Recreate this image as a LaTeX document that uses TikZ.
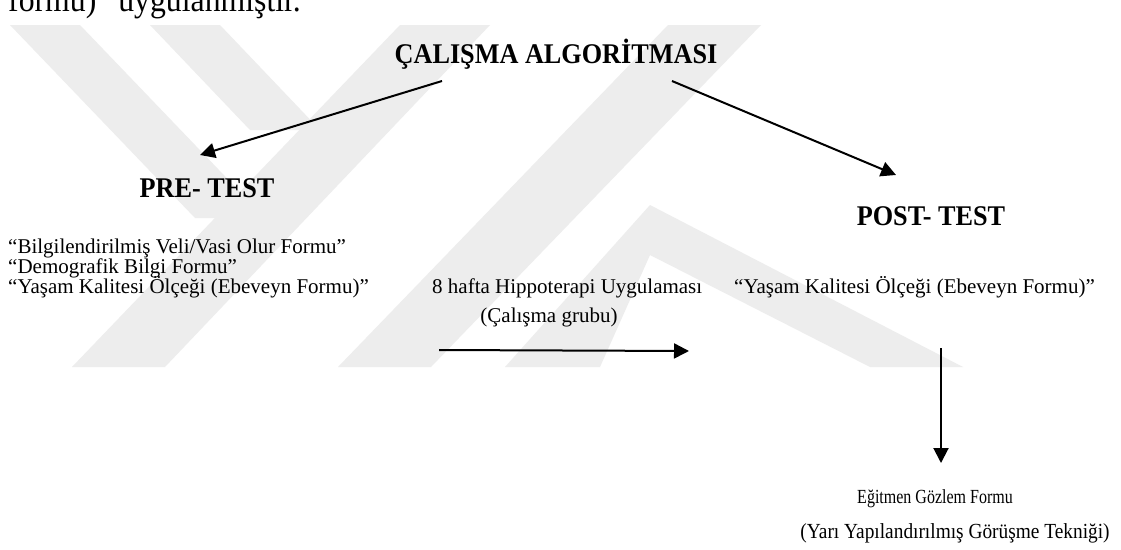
\documentclass[tikz,border=0pt]{standalone}
\usepackage{fontspec}
\setmainfont{Liberation Serif}
\newfontfamily\kalinfont{Liberation Serif}[FakeStretch=0.92]
\newfontfamily\egtfont{Liberation Serif}[FakeStretch=0.80]
\newfontfamily\yarifont{Liberation Serif}[FakeStretch=0.90]
\usetikzlibrary{arrows.meta}

\tikzset{
  baslik/.style={font=\kalinfont\fontsize{28.5}{32}\selectfont\bfseries, inner sep=0pt},
  metin/.style={font=\fontsize{21}{24}\selectfont, inner sep=0pt},
  ok/.style={line width=2pt, -{Triangle[length=15pt,width=15pt]}},
  filigran/.style={fill=black!7, draw=none},
}

\begin{document}
\begin{tikzpicture}[x=1pt, y=-1pt]
    \clip (0,0) rectangle (1121,549);
    \fill[white] (0,0) rectangle (1121,549);
    % background watermark
    \fill[filigran] (72,367) -- (165,367) -- (490,25) -- (400,25) -- cycle;
    \fill[filigran] (10,25) -- (80,25) -- (265,218) -- (195,218) -- cycle;
    \fill[filigran] (150,25) -- (220,25) -- (320,130) -- (250,130) -- cycle;
    \fill[filigran] (338,367) -- (431,367) -- (761,25) -- (668,25) -- cycle;
    \fill[filigran] (505,367) -- (650,205) -- (963,367) -- (870,367)
                    -- (650,255) -- (600,367) -- cycle;

    \node[metin, font=\kalinfont\fontsize{34.5}{38}\selectfont, anchor=base west] (ust) at (8,11) {formu)” uygulanmıştır.};
    \node[baslik, anchor=base] (alg) at (556,63) {ÇALIŞMA ALGORİTMASI};
    \node[baslik, anchor=base] (pre) at (207,197) {PRE- TEST};
    \node[baslik, anchor=base] (post) at (931,225) {POST- TEST};

    \node[metin, anchor=base west] (pre1) at (8,253) {“Bilgilendirilmiş Veli/Vasi Olur Formu”};
    \node[metin, anchor=base west] (pre2) at (8,273) {“Demografik Bilgi Formu”};
    \node[metin, anchor=base west] (pre3) at (8,293) {“Yaşam Kalitesi Ölçeği (Ebeveyn Formu)”};

    \node[metin, anchor=base west] (hip) at (432,293) {8 hafta Hippoterapi Uygulaması};
    \node[metin, anchor=base] (grup) at (549,322) {(Çalışma grubu)};
    \node[metin, anchor=base west] (post1) at (734,293) {“Yaşam Kalitesi Ölçeği (Ebeveyn Formu)”};

    \node[metin, font=\egtfont\fontsize{20}{24}\selectfont, anchor=base] (egt) at (935,503) {Eğitmen Gözlem Formu};
    \node[metin, font=\yarifont\fontsize{21.5}{25}\selectfont, anchor=base] (yari) at (955,538) {(Yarı Yapılandırılmış Görüşme Tekniği)};

    \coordinate (o1a) at (442,81);
    \coordinate (o1b) at (200,155);
    \coordinate (o2a) at (672,81);
    \coordinate (o2b) at (896,175);
    \coordinate (o3a) at (439,350);
    \coordinate (o3b) at (689,351);
    \coordinate (o4a) at (941,348);
    \coordinate (o4b) at (941,463);

    \draw[ok] (o1a) -- (o1b);
    \draw[ok] (o2a) -- (o2b);
    \draw[ok] (o3a) -- (o3b);
    \draw[ok] (o4a) -- (o4b);
\end{tikzpicture}
\end{document}
